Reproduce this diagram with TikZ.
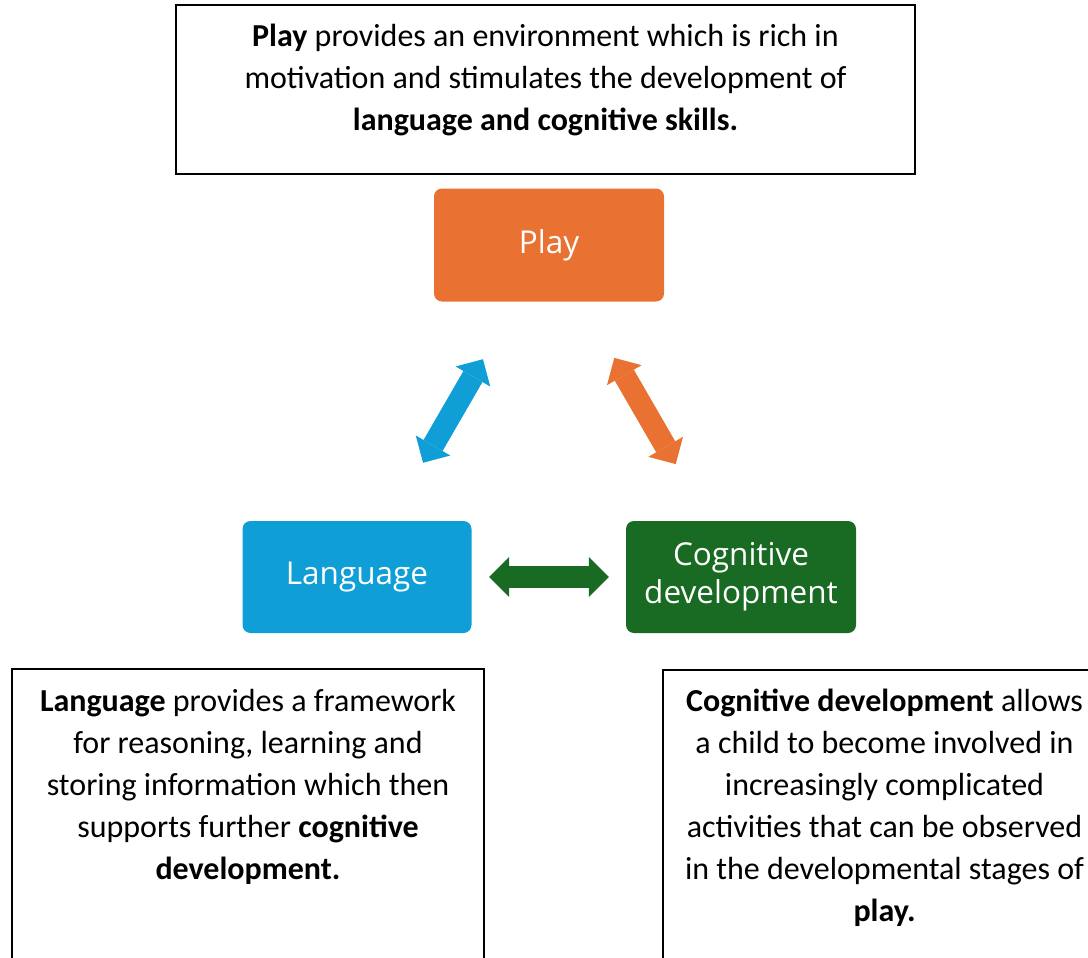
\documentclass[tikz,border=0pt]{standalone}
\usepackage{fontspec}
\setmainfont{Carlito}
\newfontfamily\labelfont{Open Sans}
\usetikzlibrary{calc,arrows.meta}
\definecolor{playorange}{HTML}{E97132}
\definecolor{langblue}{HTML}{0F9ED5}
\definecolor{cogreen}{HTML}{196B24}
\begin{document}
\begin{tikzpicture}[x=1pt,y=-1pt,
  concept/.style={rectangle, rounded corners=8pt, minimum width=229pt,
    minimum height=113pt, text=white, align=center, inner sep=0pt,
    font=\labelfont\fontsize{31.5}{38}\selectfont},
  infobox/.style={draw=black, line width=1.8pt, rectangle, inner sep=0pt},
  infotext/.style={align=center, inner sep=0pt, anchor=north,
    font=\fontsize{32}{42}\selectfont},
  link/.style={line width=22pt,
    {Triangle[length=20pt,width=40pt,line width=0pt]}-{Triangle[length=20pt,width=40pt,line width=0pt]}}
]
\useasboundingbox (0,0) rectangle (1088,958);
\clip (0,0) rectangle (1088,958);

% explanatory boxes
\node[infobox, minimum width=739pt, minimum height=169pt] (topbox) at (545.5,89.5) {};
\node[infobox, minimum width=472pt, minimum height=331pt] (langbox) at (248,834.5) {};
\node[infobox, minimum width=442pt, minimum height=330pt] (cogbox) at (884,835) {};

\node[infotext] (toptext) at (545.5,22) {\rule{0pt}{24pt}\textbf{Play} provides an environment which is rich in\\
  motivation and stimulates the development of\\
  \textbf{language and cognitive skills.}};
\node[infotext] (langtext) at (248,687) {\rule{0pt}{24pt}\textbf{Language} provides a framework\\
  for reasoning, learning and\\
  storing information which then\\
  supports further \textbf{cognitive}\\
  \textbf{development.}};
\node[infotext] (cogtext) at (884.5,687) {\rule{0pt}{24pt}\textbf{Cognitive development} allows\\
  a child to become involved in\\
  increasingly complicated\\
  activities that can be observed\\
  in the developmental stages of\\
  \textbf{play.}};

% concept boxes
\node[concept, fill=playorange, minimum width=230pt] (play) at (549,245) {Play};
\node[concept, fill=langblue, minimum height=112pt] (lang) at (357,577) {Language};
\node[concept, fill=cogreen, minimum width=230pt, minimum height=112pt] (cog) at (741,577) {Cognitive\\development};

% two-way links
\draw[link, langblue] ($(lang)!0.344!(play)$) -- ($(lang)!0.656!(play)$);
\draw[link, playorange] ($(play)!0.34!(cog)$) -- ($(play)!0.66!(cog)$);
\draw[link, cogreen] ($(lang)!0.344!(cog)$) -- ($(lang)!0.656!(cog)$);
\end{tikzpicture}
\end{document}
